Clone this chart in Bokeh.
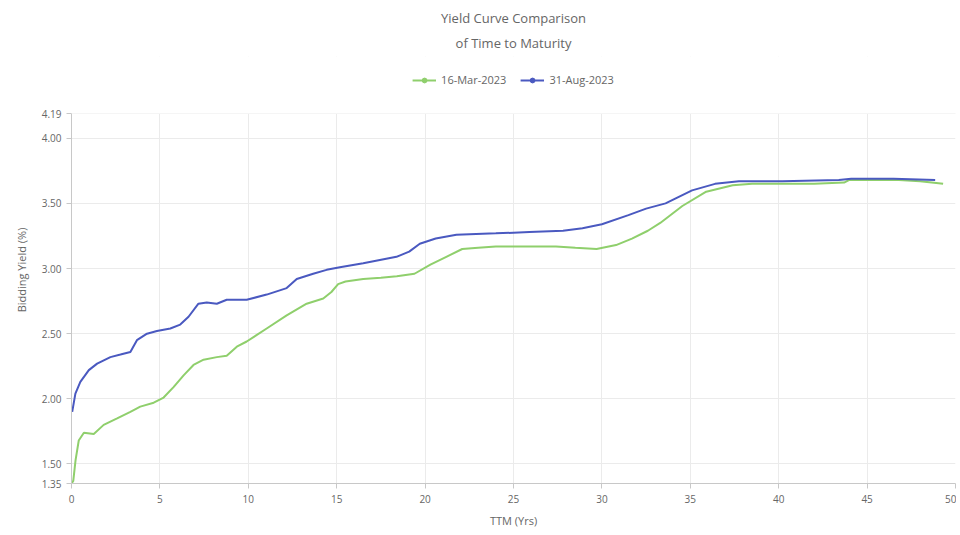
from bokeh.plotting import figure
from bokeh.models import (Legend, LegendItem, FixedTicker, NumeralTickFormatter, Title, Range1d,
                          ColumnDataSource, BoxAnnotation)
from bokeh.embed import file_html
from bokeh.resources import INLINE

title_lines = ["Yield Curve Comparison", "of Time to Maturity"]
series_names = ["16-Mar-2023", "31-Aug-2023"]

ttm_mar = [0.0, 0.1, 0.23, 0.41, 0.7, 1.26, 1.82, 2.58, 3.33, 3.89, 4.65, 5.21, 5.77, 6.34, 6.9,
           7.47, 8.22, 8.78, 9.35, 9.91, 11.04, 12.17, 13.3, 14.24, 14.7, 15.08, 15.5, 16.5, 17.5,
           18.4, 19.4, 20.3, 21.2, 22.1, 23.0, 24.0, 25.9, 27.4, 28.5, 29.7, 30.8, 31.7, 32.6,
           33.3, 34.55, 35.9, 37.4, 38.5, 40.2, 42.0, 43.7, 44.0, 45.5, 46.8, 48.0, 49.3]
yield_mar = [1.35, 1.37, 1.53, 1.68, 1.74, 1.73, 1.80, 1.85, 1.90, 1.94, 1.97, 2.01, 2.09, 2.18, 2.26,
             2.30, 2.32, 2.33, 2.40, 2.44, 2.54, 2.64, 2.73, 2.77, 2.82, 2.88, 2.90, 2.92, 2.93,
             2.94, 2.96, 3.03, 3.09, 3.15, 3.16, 3.17, 3.17, 3.17, 3.16, 3.15, 3.18, 3.23, 3.29,
             3.35, 3.48, 3.59, 3.64, 3.65, 3.65, 3.65, 3.66, 3.68, 3.68, 3.68, 3.67, 3.65]

ttm_aug = [0.04, 0.22, 0.5, 0.98, 1.45, 2.2, 2.77, 3.33, 3.7, 4.27, 4.83, 5.59, 6.15, 6.62, 7.18,
           7.65, 8.22, 8.78, 9.91, 11.04, 12.17, 12.74, 13.67, 14.43, 15.18, 16.5, 18.38, 19.1,
           19.7, 20.6, 21.77, 24.0, 25.9, 27.8, 28.9, 30.0, 31.5, 32.5, 33.6, 35.1, 36.4, 37.75,
           40.2, 43.4, 44.1, 46.5, 48.85]
yield_aug = [1.90, 2.04, 2.13, 2.22, 2.27, 2.32, 2.34, 2.36, 2.45, 2.50, 2.52, 2.54, 2.57, 2.63, 2.73,
             2.74, 2.73, 2.76, 2.76, 2.80, 2.85, 2.92, 2.96, 2.99, 3.01, 3.04, 3.09, 3.13,
             3.19, 3.23, 3.26, 3.27, 3.28, 3.29, 3.31, 3.34, 3.41, 3.46, 3.50, 3.60, 3.65, 3.67,
             3.67, 3.68, 3.69, 3.69, 3.68]

x_ticks = [0, 5, 10, 15, 20, 25, 30, 35, 40, 45, 50]
y_ticks = [1.35, 1.50, 2.00, 2.50, 3.00, 3.50, 4.00, 4.19]

green = "#8fcf6c"
blue = "#4a59c0"
text_col = "#666666"
font = "Open Sans"

# layout: plotting area 370px tall for the y axis, plus a 57px strip on top for the legend
axis_px = 370
legend_px = 57
y_lo, y_hi = y_ticks[0], y_ticks[-1]
y_top = y_hi + legend_px * (y_hi - y_lo) / axis_px

p = figure(frame_width=884, frame_height=axis_px + legend_px, output_backend="svg",
           toolbar_location=None,
           x_range=Range1d(x_ticks[0], x_ticks[-1]), y_range=Range1d(y_lo, y_top),
           min_border_left=71, min_border_right=1, min_border_bottom=48, min_border_top=56,
           background_fill_color="white", border_fill_color="white")
p.outline_line_color = None

r1 = p.line(ttm_mar, yield_mar, line_color=green, line_width=2)
r2 = p.line(ttm_aug, yield_aug, line_color=blue, line_width=2)
nan_src = ColumnDataSource(data=dict(x=[float("nan")], y=[float("nan")]))
m1 = p.scatter("x", "y", source=nan_src, marker="circle", size=8, fill_color=green, line_color=green)
m2 = p.scatter("x", "y", source=nan_src, marker="circle", size=8, fill_color=blue, line_color=blue)

p.xaxis.ticker = FixedTicker(ticks=x_ticks)
p.yaxis.ticker = FixedTicker(ticks=y_ticks)
p.yaxis.formatter = NumeralTickFormatter(format="0.00")
p.xaxis.formatter = NumeralTickFormatter(format="0")
p.yaxis.bounds = (y_lo, y_hi)
for ax in (p.xaxis, p.yaxis):
    ax.axis_line_color = "#c8c8c8"
    ax.major_tick_line_color = "#c8c8c8"
    ax.minor_tick_line_color = None
    ax.major_tick_out = 5
    ax.major_tick_in = 0
    ax.major_label_text_color = text_col
    ax.major_label_text_font = font
    ax.major_label_text_font_size = "10px"
    ax.axis_label_text_color = text_col
    ax.axis_label_text_font = font
    ax.axis_label_text_font_size = "11px"
    ax.axis_label_text_font_style = "normal"
p.xaxis.axis_label = "TTM (Yrs)"
p.yaxis.axis_label = "Bidding Yield (%)"
p.xaxis.major_label_standoff = 6
p.xaxis.axis_label_standoff = 7
p.yaxis.axis_label_standoff = 10
p.grid.grid_line_color = "#ebebeb"

# blank strip above the plotting area that holds the legend
p.add_layout(BoxAnnotation(bottom=y_hi, fill_color="white", fill_alpha=1.0, line_alpha=0))

legend = Legend(items=[LegendItem(label=series_names[0], renderers=[r1, m1]),
                       LegendItem(label=series_names[1], renderers=[r2, m2])],
                orientation="horizontal", location="top_center",
                label_text_font=font, label_text_font_size="11px", label_text_color=text_col,
                border_line_color=None, background_fill_alpha=0,
                glyph_width=24, glyph_height=12, spacing=14, padding=4, margin=16)
p.add_layout(legend, "center")

p.add_layout(Title(text=title_lines[1], align="center", text_font=font, text_font_size="13px",
                   text_font_style="normal", text_color=text_col, standoff=10), "above")
p.add_layout(Title(text=title_lines[0], align="center", text_font=font, text_font_size="13px",
                   text_font_style="normal", text_color=text_col, standoff=0), "above")

open("out.html", "w").write(file_html(p, INLINE))
